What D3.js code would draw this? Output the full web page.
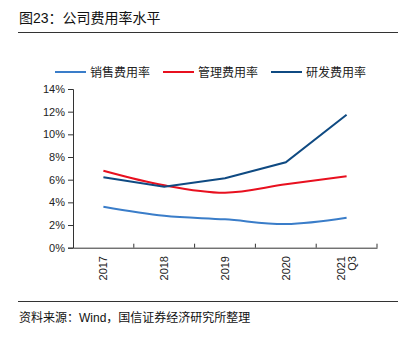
<!DOCTYPE html>
<html>
<head>
<meta charset="utf-8">
<script src="https://cdn.jsdelivr.net/npm/d3@7"></script>
<style>
  body { margin: 0; background: #fff; }
  svg { display: block; font-family: 'Liberation Sans', Arial, 'Noto Sans CJK SC', sans-serif; }
</style>
</head>
<body>
<div id="chart"></div>
<script>
const categories = ['2017', '2018', '2019', '2020', '2021Q3']
const xLabels = [['2017'], ['2018'], ['2019'], ['2020'], ['2021', 'Q3']]
const sales = [3.62, 2.82, 2.5, 2.09, 2.65]
const admin = [6.79, 5.5, 4.85, 5.59, 6.3]
const rnd = [6.21, 5.38, 6.12, 7.53, 11.73]
const yTicks = [0, 2, 4, 6, 8, 10, 12, 14]

const series = [
  { name: '销售费用率', values: sales, color: '#3a7dc9', smooth: true },
  { name: '管理费用率', values: admin, color: '#e8101f', smooth: true },
  { name: '研发费用率', values: rnd, color: '#0f4a82', smooth: false }
]

const width = 407
const height = 338
const margin = { top: 88, right: 30, bottom: 90, left: 73 }

const svg = d3.select('#chart')
  .append('svg')
  .attr('width', width)
  .attr('height', height)

// title
svg.append('text')
  .attr('x', 19)
  .attr('y', 23)
  .attr('font-size', 14)
  .attr('fill', '#111')
  .text('图23：公司费用率水平')

svg.append('line')
  .attr('x1', 18).attr('x2', 398)
  .attr('y1', 32.5).attr('y2', 32.5)
  .attr('stroke', '#333')
  .attr('stroke-width', 1)

const xScale = d3.scaleBand()
  .domain(categories)
  .range([margin.left, 377])

const yScale = d3.scaleLinear()
  .domain([0, 14])
  .range([247.7, 89])

// y axis
const yAxis = svg.append('g')
  .attr('transform', `translate(${margin.left},0)`)
  .call(d3.axisLeft(yScale).tickValues(yTicks).tickSize(5).tickFormat(d => d + '%'))
yAxis.selectAll('path, line').attr('stroke', '#333')
yAxis.selectAll('text')
  .attr('font-size', 11)
  .attr('fill', '#222')
  .attr('x', -8)

// x axis
const xAxis = svg.append('g')
  .attr('transform', `translate(0,${yScale(0)})`)
  .call(d3.axisBottom(xScale).tickSize(0).tickFormat(''))
xAxis.selectAll('path').attr('stroke', '#333')
xAxis.selectAll('.tick').remove()

// category boundary ticks (pointing up)
const bounds = categories.slice(1).map(c => xScale(c)).concat([xScale.range()[1]])
svg.selectAll('.xb')
  .data(bounds)
  .enter().append('line')
  .attr('x1', d => d).attr('x2', d => d)
  .attr('y1', yScale(0) - 4).attr('y2', yScale(0))
  .attr('stroke', '#333')

// x labels, rotated
categories.forEach((c, i) => {
  const cx = xScale(c) + xScale.bandwidth() / 2
  const lines = xLabels[i]
  const t = svg.append('text')
    .attr('transform', `translate(${cx},256) rotate(-90)`)
    .attr('text-anchor', 'end')
    .attr('font-size', 11)
    .attr('fill', '#222')
  lines.forEach((l, j) => {
    t.append('tspan')
      .attr('x', 0)
      .attr('dy', j === 0 ? (lines.length === 1 ? 4 : -1.5) : 11)
      .text(l)
  })
})

// lines
series.forEach(s => {
  const line = d3.line()
    .x((d, i) => xScale(categories[i]) + xScale.bandwidth() / 2)
    .y(d => yScale(d))
    .curve(s.smooth ? d3.curveCatmullRom.alpha(0.5) : d3.curveLinear)
  svg.append('path')
    .datum(s.values)
    .attr('d', line)
    .attr('fill', 'none')
    .attr('stroke', s.color)
    .attr('stroke-width', 2)
})

// legend
const legendX = [55, 163, 271]
series.forEach((s, i) => {
  const g = svg.append('g').attr('transform', `translate(${legendX[i]},72)`)
  g.append('line')
    .attr('x1', 0).attr('x2', 31)
    .attr('stroke', s.color)
    .attr('stroke-width', 2)
  g.append('text')
    .attr('x', 35)
    .attr('y', 4.5)
    .attr('font-size', 12)
    .attr('fill', '#222')
    .text(s.name)
})

// footer
svg.append('line')
  .attr('x1', 18).attr('x2', 398)
  .attr('y1', 301.5).attr('y2', 301.5)
  .attr('stroke', '#333')

svg.append('text')
  .attr('x', 19)
  .attr('y', 322)
  .attr('font-size', 12)
  .attr('fill', '#111')
  .text('资料来源：Wind，国信证券经济研究所整理')
</script>
</body>
</html>
